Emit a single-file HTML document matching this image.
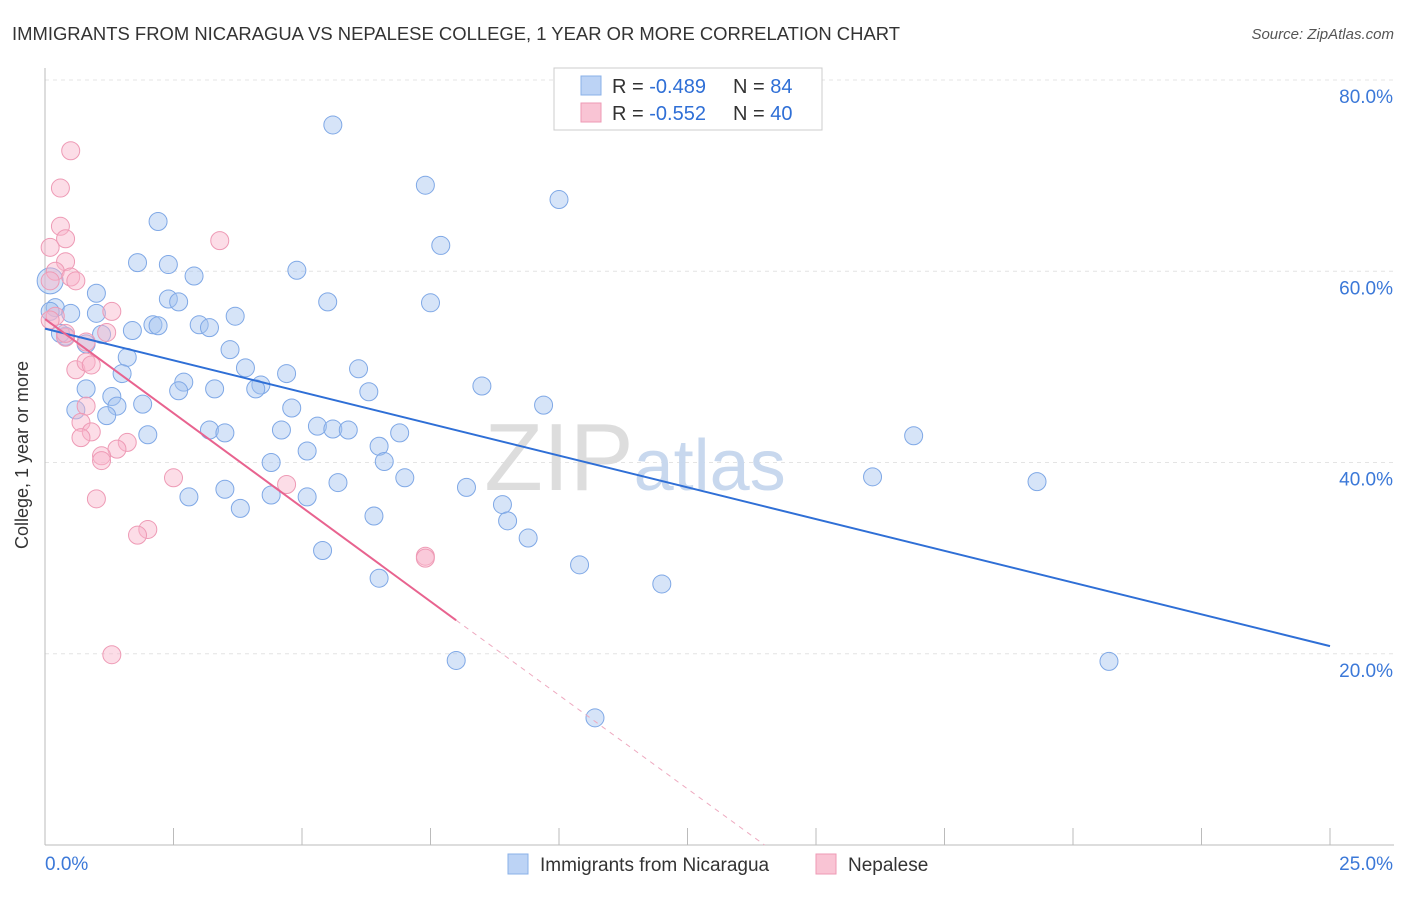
<!DOCTYPE html>
<html><head><meta charset="utf-8"><style>
body{margin:0;background:#fff;font-family:"Liberation Sans",sans-serif}
svg text{font-family:"Liberation Sans",sans-serif}
</style></head><body>
<svg id="chart" width="1406" height="892">
<text x="12" y="40" font-size="18.5" fill="#333" textLength="888" lengthAdjust="spacingAndGlyphs">IMMIGRANTS FROM NICARAGUA VS NEPALESE COLLEGE, 1 YEAR OR MORE CORRELATION CHART</text>
<text x="1394" y="39" font-size="15" fill="#555" text-anchor="end" font-style="italic">Source: ZipAtlas.com</text>
<text x="28" y="455" font-size="18" fill="#333" text-anchor="middle" transform="rotate(-90 28 455)">College, 1 year or more</text>
<g id="grid"></g>
<text x="635" y="490" font-size="96" fill="#ddd" text-anchor="middle" font-family="Liberation Serif">ZIP<tspan fill="#c8d8ee" font-size="72" font-family="Liberation Sans">atlas</tspan></text>
<g id="pts"></g>
<g id="lines"></g>
<g>
<rect x="554" y="68" width="268" height="62" fill="#fff" stroke="#ccc"/>
<rect x="581" y="76" width="20" height="19" fill="#bcd3f5" stroke="#8ab0e8"/>
<text x="612" y="93" font-size="20" fill="#333">R = <tspan fill="#2f6fd6">-0.489</tspan></text>
<text x="733" y="93" font-size="20" fill="#333">N = <tspan fill="#2f6fd6">84</tspan></text>
<rect x="581" y="103" width="20" height="19" fill="#f9c4d4" stroke="#ee9ab5"/>
<text x="612" y="120" font-size="20" fill="#333">R = <tspan fill="#2f6fd6">-0.552</tspan></text>
<text x="733" y="120" font-size="20" fill="#333">N = <tspan fill="#2f6fd6">40</tspan></text>
</g>
<g>
<rect x="508" y="854" width="20" height="20" fill="#bcd3f5" stroke="#8ab0e8"/>
<text x="540" y="871" font-size="19" fill="#333">Immigrants from Nicaragua</text>
<rect x="816" y="854" width="20" height="20" fill="#f9c4d4" stroke="#ee9ab5"/>
<text x="848" y="871" font-size="19" fill="#333">Nepalese</text>
</g>
</svg>
<script>
const xTicks=[0,25];
const yTicks=[20,40,60,80];
const blueX=[5.6,7.4,10.0,2.2,7.7,1.8,2.4,4.9,2.9,1.0,2.4,2.6,5.5,7.5,0.2,0.5,1.0,3.7,2.1,2.2,3.0,3.2,1.7,1.1,0.4,0.8,3.6,1.6,3.9,6.1,4.7,1.5,2.7,4.2,6.3,8.5,4.1,3.3,0.8,2.6,1.3,1.4,1.9,9.7,4.8,0.6,1.2,5.3,5.6,5.9,3.2,3.5,4.6,6.9,2.0,16.9,6.5,5.1,4.4,6.6,16.1,7.0,19.3,5.7,3.5,8.2,2.8,4.4,5.1,8.9,3.8,6.4,9.0,9.4,5.4,10.4,6.5,12.0,8.0,20.7,10.7,0.1,0.1,0.3];
const blueY=[75.3,69.0,67.5,65.2,62.7,60.9,60.7,60.1,59.5,57.7,57.1,56.8,56.8,56.7,56.2,55.6,55.6,55.3,54.4,54.3,54.4,54.1,53.8,53.4,53.2,52.4,51.8,51.0,49.9,49.8,49.3,49.3,48.4,48.1,47.4,48.0,47.7,47.7,47.7,47.5,46.9,45.9,46.1,46.0,45.7,45.5,44.9,43.8,43.5,43.4,43.4,43.1,43.4,43.1,42.9,42.8,41.7,41.2,40.0,40.1,38.5,38.4,38.0,37.9,37.2,37.4,36.4,36.6,36.4,35.6,35.2,34.4,33.9,32.1,30.8,29.3,27.9,27.3,19.3,19.2,13.3,59.0,55.8,53.5];
const pinkX=[0.5,0.3,0.3,0.4,3.4,0.1,0.4,0.2,0.5,0.6,1.3,0.2,1.2,0.4,0.8,0.6,0.8,0.9,0.8,0.7,0.9,0.7,1.6,1.4,1.1,1.1,2.5,4.7,1.0,2.0,1.8,7.4,7.4,1.3,0.1,0.1,0.4];
const pinkY=[72.6,68.7,64.7,63.4,63.2,62.5,61.0,60.0,59.4,59.0,55.8,55.3,53.6,53.1,52.6,49.7,50.5,50.2,45.9,44.2,43.2,42.6,42.1,41.4,40.7,40.2,38.4,37.7,36.2,33.0,32.4,30.2,30.0,19.9,59.0,54.9,53.5];
const X0=45,X1=1330,Y0=845,YS=(845-80)/80;
const sx=v=>X0+(X1-X0)*v/25, sy=v=>Y0-v*YS;
const NS='http://www.w3.org/2000/svg';
function mk(t,a,p){const e=document.createElementNS(NS,t);for(const k in a)e.setAttribute(k,a[k]);p.appendChild(e);return e;}
const g=document.getElementById('grid');
yTicks.forEach(v=>{
 const l=mk('line',{x1:45,x2:1394,y1:sy(v),y2:sy(v),stroke:'#e4e4e4','stroke-dasharray':'4,4'},g);
 
 
 const t=mk('text',{x:1393,y:sy(v)+23,'font-size':19,fill:'#3b78d8','text-anchor':'end'},g);t.textContent=v.toFixed(1)+'%';
 
 
});
mk('line',{x1:45,x2:45,y1:68,y2:845,stroke:'#bbb'},g);
mk('line',{x1:45,x2:1394,y1:845,y2:845,stroke:'#bbb'},g);
for(let i=0;i<=10;i++){mk('line',{x1:sx(i*2.5),x2:sx(i*2.5),y1:828,y2:845,stroke:'#bbb'},g);}
xTicks.forEach((v,i)=>{const t=mk('text',{x:i?1393:45,y:870,'font-size':19,fill:'#3b78d8','text-anchor':i?'end':'start'},g);t.textContent=v.toFixed(1)+'%';
 
 });
const P=document.getElementById('pts');
blueX.forEach((x,i)=>{const c=mk('circle',{cx:sx(x),cy:sy(blueY[i]),r:i>=81?(i==81?13:9):9,fill:'rgba(165,195,240,0.45)',stroke:'#7fa8e6','stroke-width':1},P);
 
 });
pinkX.forEach((x,i)=>{const c=mk('circle',{cx:sx(x),cy:sy(pinkY[i]),r:9,fill:'rgba(248,180,202,0.45)',stroke:'#ee9ab5','stroke-width':1},P);
 
 });
const L=document.getElementById('lines');
let l=mk('line',{x1:sx(0),y1:sy(54.0),x2:sx(25),y2:sy(20.8),stroke:'#2f6fd6','stroke-width':2},L);


l=mk('line',{x1:sx(0),y1:sy(55.0),x2:sx(8.0),y2:sy(23.5),stroke:'#e8638f','stroke-width':2},L);


l=mk('line',{x1:sx(8.0),y1:sy(23.5),x2:sx(14.0),y2:sy(0),stroke:'#eeaac0','stroke-width':1,'stroke-dasharray':'5,5'},L);


</script>
</body></html>
